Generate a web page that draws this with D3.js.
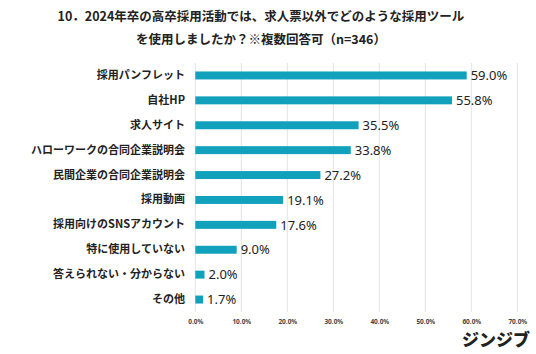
<!DOCTYPE html>
<html><head><meta charset="utf-8">
<script src="https://cdn.jsdelivr.net/npm/d3@7"></script>
<style>
html,body{margin:0;padding:0;background:#fff;}
text{font-family:"Noto Sans CJK JP","Noto Sans",sans-serif;}
</style></head>
<body>
<svg id="c" width="536" height="354"></svg>
<script>
const categories = ["採用パンフレット","自社HP","求人サイト","ハローワークの合同企業説明会","民間企業の合同企業説明会","採用動画","採用向けのSNSアカウント","特に使用していない","答えられない・分からない","その他"];
const values = [59.0,55.8,35.5,33.8,27.2,19.1,17.6,9.0,2.0,1.7];
const ticks = [0,10,20,30,40,50,60,70];
const titleLines = ["10．2024年卒の高卒採用活動では、求人票以外でどのような採用ツール","を使用しましたか？※複数回答可（n=346）"];
const logo = "ジンジブ";

const svg = d3.select("#c");
const x = d3.scaleLinear().domain([0,70]).range([195.3,517.3]);
const y = d3.scaleBand().domain(categories).range([63,312]).paddingInner(0.68).paddingOuter(0.34);

// gridlines
svg.append("g").selectAll("line").data(ticks).join("line")
  .attr("x1",d=>x(d)).attr("x2",d=>x(d)).attr("y1",63).attr("y2",312)
  .attr("stroke","#e3e3e3").attr("stroke-width",1);

// x axis labels
const xAxis = d3.axisBottom(x).tickValues(ticks).tickSize(0).tickFormat(d=>d.toFixed(1)+"%");
const gx = svg.append("g").attr("transform","translate(0,316)").call(xAxis);
gx.select(".domain").remove();
gx.selectAll("text").attr("font-size","6.5px").attr("fill","#444").attr("font-weight","bold")
  .style("font-family","'Noto Sans', sans-serif");

// y labels
const yAxis = d3.axisLeft(y).tickSize(0).tickPadding(0);
const gy = svg.append("g").attr("transform","translate(185,0)").call(yAxis);
gy.select(".domain").remove();
gy.selectAll("text").attr("font-size","11px").attr("font-weight","bold").attr("fill","#222");

// bars
svg.append("g").selectAll("rect").data(values).join("rect")
  .attr("x",x(0)).attr("y",(d,i)=>y(categories[i]))
  .attr("width",d=>x(d)-x(0)).attr("height",y.bandwidth())
  .attr("fill","#12a1bd");

// value labels
svg.append("g").selectAll("text").data(values).join("text")
  .attr("x",d=>x(d)+4).attr("y",(d,i)=>y(categories[i])+y.bandwidth()/2)
  .attr("dy","0.36em").attr("font-size","13px").attr("fill","#222")
  .style("font-family","'Noto Sans', sans-serif")
  .text(d=>d.toFixed(1)+"%");

// title
svg.append("g").selectAll("text").data(titleLines).join("text")
  .attr("x",261).attr("y",(d,i)=>21+i*23).attr("text-anchor","middle")
  .attr("font-size","12.5px").attr("font-weight","bold").attr("fill","#222")
  .text(d=>d);

// logo
svg.append("text").attr("x",530).attr("y",346).attr("text-anchor","end")
  .attr("font-size","17px").attr("font-weight","900").attr("fill","#222")
  .text(logo);
</script>
</body></html>
